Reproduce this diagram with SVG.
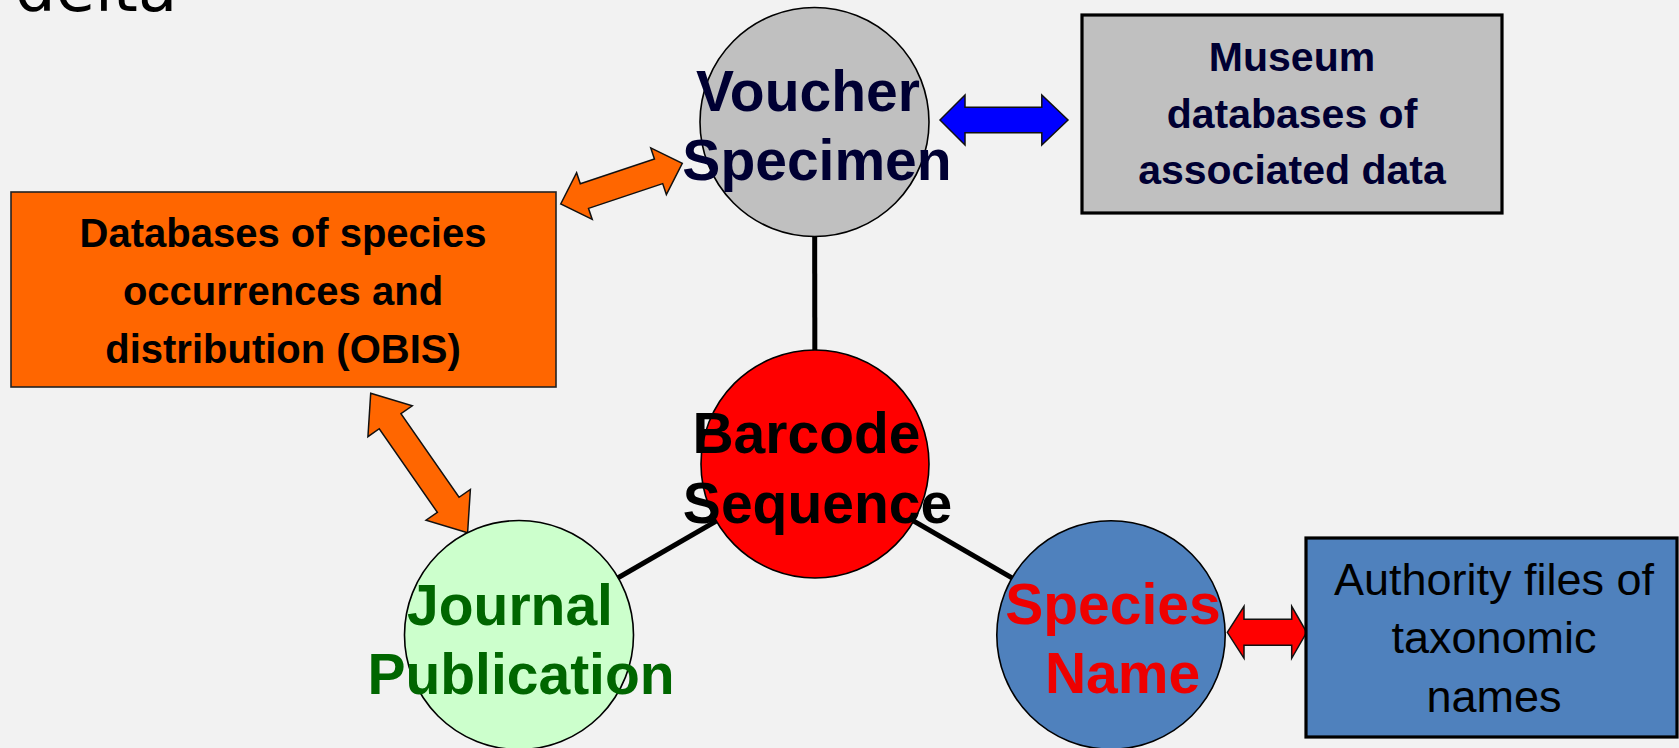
<svg xmlns="http://www.w3.org/2000/svg" width="1679" height="748" viewBox="0 0 1679 748">
<style>
.bg{fill:#F2F2F2}
.circ{stroke:#000;stroke-width:1.6}
.box{stroke:#000;stroke-width:3.2}
.link{stroke:#000;stroke-width:5;fill:none}
.arr{stroke:#111;stroke-width:1.5;stroke-linejoin:miter}
.big{font-family:"Liberation Sans",Arial,sans-serif;font-weight:bold;font-size:57px;text-anchor:middle}
.bt{font-family:"Liberation Sans",Arial,sans-serif;font-weight:bold;text-anchor:middle}
.rt{font-family:"Liberation Sans",Arial,sans-serif;font-size:45px;text-anchor:middle;fill:#000}
</style>
<rect class="bg" x="0" y="0" width="1679" height="748"/>
<text x="15" y="11" font-family="DejaVu Sans, sans-serif" font-size="64" fill="#000">delta</text>
<g id="connectors">
<line class="link" x1="814.5" y1="122" x2="815" y2="464"/>
<line class="link" x1="815" y1="464" x2="519" y2="635"/>
<line class="link" x1="815" y1="464" x2="1111" y2="635"/>
<path class="arr" fill="#FF6600" transform="translate(560.7,204) rotate(-18.5)" d="M0,0 L25,-24.6 L25,-13 L103.2,-13 L103.2,-24.6 L128.2,0 L103.2,24.6 L103.2,13 L25,13 L25,24.6 Z"/>
<path class="arr" fill="#FF6600" transform="translate(370.7,393.3) rotate(55.2)" d="M0,0 L34,-27 L34,-13.2 L135.8,-13.2 L135.8,-27 L169.8,0 L135.8,27 L135.8,13.2 L34,13.2 L34,27 Z"/>
<path class="arr" fill="#0000FF" d="M940,120 L965,95 L965,107.3 L1041.8,107.3 L1041.8,95 L1068,120 L1041.8,145 L1041.8,132.7 L965,132.7 L965,145 Z"/>
<path class="arr" fill="#FF0000" d="M1227.3,632.3 L1244,606.3 L1244,619.3 L1291.7,619.3 L1291.7,606.3 L1306.7,632.3 L1291.7,658.3 L1291.7,645.3 L1244,645.3 L1244,658.3 Z"/>
</g>
<g id="voucher">
<circle class="circ" cx="814.5" cy="122" r="114.5" fill="#C0C0C0"/>
<text class="big" fill="#000033" x="808" y="111">Voucher</text>
<text class="big" fill="#000033" x="817" y="180">Specimen</text>
</g>
<g id="museum">
<rect class="box" x="1082" y="15" width="420" height="198" fill="#C0C0C0"/>
<text class="bt" font-size="41" fill="#000033" x="1292" y="71">Museum</text>
<text class="bt" font-size="41" fill="#000033" x="1292" y="128">databases of</text>
<text class="bt" font-size="41" fill="#000033" x="1292" y="184">associated data</text>
</g>
<g id="obis">
<rect x="11" y="192" width="545" height="195" fill="#FF6600" stroke="#222" stroke-width="1.6"/>
<text class="bt" font-size="40" fill="#000" x="283" y="247">Databases of species</text>
<text class="bt" font-size="40" fill="#000" x="283" y="305">occurrences and</text>
<text class="bt" font-size="40" fill="#000" x="283" y="363">distribution (OBIS)</text>
</g>
<g id="barcode">
<circle class="circ" cx="815" cy="464" r="114" fill="#FF0000"/>
<text class="big" fill="#000" x="806.5" y="453">Barcode</text>
<text class="big" fill="#000" x="817.5" y="523">Sequence</text>
</g>
<g id="journal">
<circle class="circ" cx="519" cy="635" r="114.5" fill="#CCFFCC"/>
<text class="big" fill="#006600" x="510" y="625">Journal</text>
<text class="big" fill="#006600" x="521" y="694">Publication</text>
</g>
<g id="species">
<circle class="circ" cx="1111" cy="635" r="114.2" fill="#4F81BD"/>
<text class="big" fill="#EE0000" x="1113" y="624">Species</text>
<text class="big" fill="#EE0000" x="1122.5" y="693">Name</text>
</g>
<g id="authority">
<rect class="box" x="1306" y="538" width="371" height="199" fill="#4F81BD"/>
<text class="rt" x="1494" y="595">Authority files of</text>
<text class="rt" x="1494" y="653">taxonomic</text>
<text class="rt" x="1494" y="712">names</text>
</g>
</svg>
